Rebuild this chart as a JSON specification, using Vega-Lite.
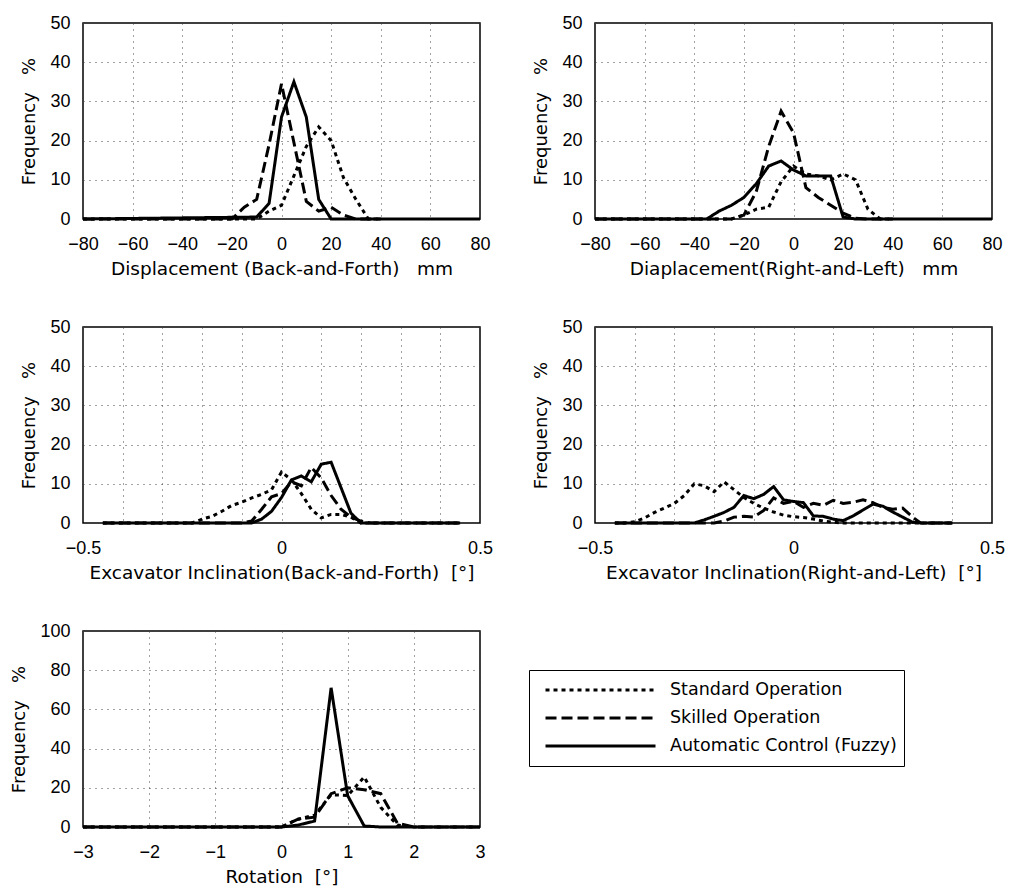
{
  "$schema": "https://vega.github.io/schema/vega-lite/v6.json",
  "background": "white",
  "padding": {"left": 10, "top": 13, "right": 5, "bottom": 5},
  "bounds": "flush",
  "columns": 2,
  "spacing": {"row": 108, "column": 115},
  "datasets": {
    "p1": [
      {"s": "Standard Operation", "x": -80, "y": 0}, {"s": "Standard Operation", "x": -10, "y": 0}, {"s": "Standard Operation", "x": -5, "y": 2}, {"s": "Standard Operation", "x": 0, "y": 3.5}, {"s": "Standard Operation", "x": 5, "y": 11}, {"s": "Standard Operation", "x": 10, "y": 18.5}, {"s": "Standard Operation", "x": 15, "y": 23.5}, {"s": "Standard Operation", "x": 20, "y": 20}, {"s": "Standard Operation", "x": 25, "y": 10.5}, {"s": "Standard Operation", "x": 30, "y": 5}, {"s": "Standard Operation", "x": 35, "y": 0}, {"s": "Standard Operation", "x": 40, "y": 0},
      {"s": "Skilled Operation", "x": -80, "y": 0}, {"s": "Skilled Operation", "x": -20, "y": 0}, {"s": "Skilled Operation", "x": -15, "y": 3}, {"s": "Skilled Operation", "x": -10, "y": 5}, {"s": "Skilled Operation", "x": -5, "y": 19}, {"s": "Skilled Operation", "x": 0, "y": 34.5}, {"s": "Skilled Operation", "x": 5, "y": 19.5}, {"s": "Skilled Operation", "x": 10, "y": 4.5}, {"s": "Skilled Operation", "x": 15, "y": 2}, {"s": "Skilled Operation", "x": 20, "y": 3}, {"s": "Skilled Operation", "x": 25, "y": 1}, {"s": "Skilled Operation", "x": 30, "y": 0}, {"s": "Skilled Operation", "x": 40, "y": 0},
      {"s": "Automatic Control (Fuzzy)", "x": -80, "y": 0}, {"s": "Automatic Control (Fuzzy)", "x": -10, "y": 0.5}, {"s": "Automatic Control (Fuzzy)", "x": -5, "y": 4}, {"s": "Automatic Control (Fuzzy)", "x": 0, "y": 26}, {"s": "Automatic Control (Fuzzy)", "x": 5, "y": 35}, {"s": "Automatic Control (Fuzzy)", "x": 10, "y": 26}, {"s": "Automatic Control (Fuzzy)", "x": 15, "y": 5}, {"s": "Automatic Control (Fuzzy)", "x": 20, "y": 0}, {"s": "Automatic Control (Fuzzy)", "x": 80, "y": 0}
    ],
    "p2": [
      {"s": "Standard Operation", "x": -80, "y": 0}, {"s": "Standard Operation", "x": -25, "y": 0}, {"s": "Standard Operation", "x": -20, "y": 1}, {"s": "Standard Operation", "x": -15, "y": 2.5}, {"s": "Standard Operation", "x": -10, "y": 3}, {"s": "Standard Operation", "x": -5, "y": 9.5}, {"s": "Standard Operation", "x": 0, "y": 13.5}, {"s": "Standard Operation", "x": 5, "y": 11.5}, {"s": "Standard Operation", "x": 10, "y": 11}, {"s": "Standard Operation", "x": 15, "y": 10}, {"s": "Standard Operation", "x": 20, "y": 11.5}, {"s": "Standard Operation", "x": 25, "y": 10}, {"s": "Standard Operation", "x": 30, "y": 2.5}, {"s": "Standard Operation", "x": 35, "y": 0}, {"s": "Standard Operation", "x": 40, "y": 0},
      {"s": "Skilled Operation", "x": -80, "y": 0}, {"s": "Skilled Operation", "x": -25, "y": 0}, {"s": "Skilled Operation", "x": -20, "y": 1}, {"s": "Skilled Operation", "x": -15, "y": 7}, {"s": "Skilled Operation", "x": -10, "y": 18.5}, {"s": "Skilled Operation", "x": -5, "y": 27.5}, {"s": "Skilled Operation", "x": 0, "y": 22}, {"s": "Skilled Operation", "x": 5, "y": 8}, {"s": "Skilled Operation", "x": 10, "y": 5.5}, {"s": "Skilled Operation", "x": 15, "y": 3.5}, {"s": "Skilled Operation", "x": 20, "y": 1.5}, {"s": "Skilled Operation", "x": 25, "y": 0.2}, {"s": "Skilled Operation", "x": 30, "y": 0}, {"s": "Skilled Operation", "x": 40, "y": 0},
      {"s": "Automatic Control (Fuzzy)", "x": -80, "y": 0}, {"s": "Automatic Control (Fuzzy)", "x": -35, "y": 0}, {"s": "Automatic Control (Fuzzy)", "x": -30, "y": 2}, {"s": "Automatic Control (Fuzzy)", "x": -25, "y": 3.5}, {"s": "Automatic Control (Fuzzy)", "x": -20, "y": 5.5}, {"s": "Automatic Control (Fuzzy)", "x": -15, "y": 9}, {"s": "Automatic Control (Fuzzy)", "x": -10, "y": 13.5}, {"s": "Automatic Control (Fuzzy)", "x": -5, "y": 14.8}, {"s": "Automatic Control (Fuzzy)", "x": 0, "y": 12.5}, {"s": "Automatic Control (Fuzzy)", "x": 5, "y": 11}, {"s": "Automatic Control (Fuzzy)", "x": 10, "y": 11}, {"s": "Automatic Control (Fuzzy)", "x": 15, "y": 11}, {"s": "Automatic Control (Fuzzy)", "x": 20, "y": 0.5}, {"s": "Automatic Control (Fuzzy)", "x": 25, "y": 0}, {"s": "Automatic Control (Fuzzy)", "x": 80, "y": 0}
    ],
    "p3": [
      {"s": "Standard Operation", "x": -0.45, "y": 0}, {"s": "Standard Operation", "x": -0.225, "y": 0}, {"s": "Standard Operation", "x": -0.2, "y": 1}, {"s": "Standard Operation", "x": -0.175, "y": 1.7}, {"s": "Standard Operation", "x": -0.15, "y": 3}, {"s": "Standard Operation", "x": -0.125, "y": 4.5}, {"s": "Standard Operation", "x": -0.1, "y": 5.3}, {"s": "Standard Operation", "x": -0.075, "y": 6.4}, {"s": "Standard Operation", "x": -0.05, "y": 7.3}, {"s": "Standard Operation", "x": -0.025, "y": 8.5}, {"s": "Standard Operation", "x": 0, "y": 13}, {"s": "Standard Operation", "x": 0.025, "y": 11}, {"s": "Standard Operation", "x": 0.05, "y": 7.5}, {"s": "Standard Operation", "x": 0.075, "y": 3.5}, {"s": "Standard Operation", "x": 0.1, "y": 1.3}, {"s": "Standard Operation", "x": 0.125, "y": 2.2}, {"s": "Standard Operation", "x": 0.15, "y": 2.2}, {"s": "Standard Operation", "x": 0.175, "y": 1.5}, {"s": "Standard Operation", "x": 0.2, "y": 0}, {"s": "Standard Operation", "x": 0.45, "y": 0},
      {"s": "Skilled Operation", "x": -0.45, "y": 0}, {"s": "Skilled Operation", "x": -0.1, "y": 0}, {"s": "Skilled Operation", "x": -0.075, "y": 0.5}, {"s": "Skilled Operation", "x": -0.05, "y": 3.5}, {"s": "Skilled Operation", "x": -0.025, "y": 6.7}, {"s": "Skilled Operation", "x": 0, "y": 7.5}, {"s": "Skilled Operation", "x": 0.025, "y": 10.5}, {"s": "Skilled Operation", "x": 0.05, "y": 9.5}, {"s": "Skilled Operation", "x": 0.075, "y": 14.2}, {"s": "Skilled Operation", "x": 0.1, "y": 11.5}, {"s": "Skilled Operation", "x": 0.125, "y": 7}, {"s": "Skilled Operation", "x": 0.15, "y": 3.5}, {"s": "Skilled Operation", "x": 0.175, "y": 1.5}, {"s": "Skilled Operation", "x": 0.2, "y": 0.5}, {"s": "Skilled Operation", "x": 0.225, "y": 0}, {"s": "Skilled Operation", "x": 0.45, "y": 0},
      {"s": "Automatic Control (Fuzzy)", "x": -0.45, "y": 0}, {"s": "Automatic Control (Fuzzy)", "x": -0.075, "y": 0}, {"s": "Automatic Control (Fuzzy)", "x": -0.05, "y": 1}, {"s": "Automatic Control (Fuzzy)", "x": -0.025, "y": 3}, {"s": "Automatic Control (Fuzzy)", "x": 0, "y": 6.5}, {"s": "Automatic Control (Fuzzy)", "x": 0.025, "y": 11}, {"s": "Automatic Control (Fuzzy)", "x": 0.05, "y": 12}, {"s": "Automatic Control (Fuzzy)", "x": 0.075, "y": 10.5}, {"s": "Automatic Control (Fuzzy)", "x": 0.1, "y": 15}, {"s": "Automatic Control (Fuzzy)", "x": 0.125, "y": 15.5}, {"s": "Automatic Control (Fuzzy)", "x": 0.15, "y": 9}, {"s": "Automatic Control (Fuzzy)", "x": 0.175, "y": 2.5}, {"s": "Automatic Control (Fuzzy)", "x": 0.2, "y": 0}, {"s": "Automatic Control (Fuzzy)", "x": 0.45, "y": 0}
    ],
    "p4": [
      {"s": "Standard Operation", "x": -0.45, "y": 0}, {"s": "Standard Operation", "x": -0.425, "y": 0}, {"s": "Standard Operation", "x": -0.4, "y": 0.3}, {"s": "Standard Operation", "x": -0.375, "y": 1.3}, {"s": "Standard Operation", "x": -0.35, "y": 2.7}, {"s": "Standard Operation", "x": -0.325, "y": 3.8}, {"s": "Standard Operation", "x": -0.3, "y": 5}, {"s": "Standard Operation", "x": -0.275, "y": 7}, {"s": "Standard Operation", "x": -0.25, "y": 10}, {"s": "Standard Operation", "x": -0.225, "y": 9.5}, {"s": "Standard Operation", "x": -0.2, "y": 8}, {"s": "Standard Operation", "x": -0.175, "y": 10.5}, {"s": "Standard Operation", "x": -0.15, "y": 8.5}, {"s": "Standard Operation", "x": -0.125, "y": 6.5}, {"s": "Standard Operation", "x": -0.1, "y": 5}, {"s": "Standard Operation", "x": -0.075, "y": 3.8}, {"s": "Standard Operation", "x": -0.05, "y": 2.8}, {"s": "Standard Operation", "x": -0.025, "y": 2}, {"s": "Standard Operation", "x": 0, "y": 1.6}, {"s": "Standard Operation", "x": 0.025, "y": 1.4}, {"s": "Standard Operation", "x": 0.05, "y": 1}, {"s": "Standard Operation", "x": 0.075, "y": 0.5}, {"s": "Standard Operation", "x": 0.1, "y": 0.2}, {"s": "Standard Operation", "x": 0.125, "y": 0}, {"s": "Standard Operation", "x": 0.4, "y": 0},
      {"s": "Skilled Operation", "x": -0.45, "y": 0}, {"s": "Skilled Operation", "x": -0.2, "y": 0}, {"s": "Skilled Operation", "x": -0.175, "y": 0.5}, {"s": "Skilled Operation", "x": -0.15, "y": 1.5}, {"s": "Skilled Operation", "x": -0.125, "y": 1.7}, {"s": "Skilled Operation", "x": -0.1, "y": 1.5}, {"s": "Skilled Operation", "x": -0.075, "y": 3.2}, {"s": "Skilled Operation", "x": -0.05, "y": 6.4}, {"s": "Skilled Operation", "x": -0.025, "y": 5}, {"s": "Skilled Operation", "x": 0, "y": 5.5}, {"s": "Skilled Operation", "x": 0.025, "y": 4}, {"s": "Skilled Operation", "x": 0.05, "y": 5}, {"s": "Skilled Operation", "x": 0.075, "y": 4.5}, {"s": "Skilled Operation", "x": 0.1, "y": 5.8}, {"s": "Skilled Operation", "x": 0.125, "y": 5}, {"s": "Skilled Operation", "x": 0.15, "y": 5.3}, {"s": "Skilled Operation", "x": 0.175, "y": 5.9}, {"s": "Skilled Operation", "x": 0.2, "y": 5.2}, {"s": "Skilled Operation", "x": 0.225, "y": 4}, {"s": "Skilled Operation", "x": 0.25, "y": 3.5}, {"s": "Skilled Operation", "x": 0.275, "y": 3.8}, {"s": "Skilled Operation", "x": 0.3, "y": 1.5}, {"s": "Skilled Operation", "x": 0.32, "y": 0}, {"s": "Skilled Operation", "x": 0.4, "y": 0},
      {"s": "Automatic Control (Fuzzy)", "x": -0.45, "y": 0}, {"s": "Automatic Control (Fuzzy)", "x": -0.25, "y": 0}, {"s": "Automatic Control (Fuzzy)", "x": -0.225, "y": 0.8}, {"s": "Automatic Control (Fuzzy)", "x": -0.2, "y": 1.7}, {"s": "Automatic Control (Fuzzy)", "x": -0.175, "y": 2.7}, {"s": "Automatic Control (Fuzzy)", "x": -0.15, "y": 4}, {"s": "Automatic Control (Fuzzy)", "x": -0.125, "y": 7}, {"s": "Automatic Control (Fuzzy)", "x": -0.1, "y": 6.2}, {"s": "Automatic Control (Fuzzy)", "x": -0.075, "y": 7.3}, {"s": "Automatic Control (Fuzzy)", "x": -0.05, "y": 9.3}, {"s": "Automatic Control (Fuzzy)", "x": -0.025, "y": 5.9}, {"s": "Automatic Control (Fuzzy)", "x": 0, "y": 5.5}, {"s": "Automatic Control (Fuzzy)", "x": 0.025, "y": 5.2}, {"s": "Automatic Control (Fuzzy)", "x": 0.05, "y": 1.8}, {"s": "Automatic Control (Fuzzy)", "x": 0.075, "y": 1.7}, {"s": "Automatic Control (Fuzzy)", "x": 0.1, "y": 1}, {"s": "Automatic Control (Fuzzy)", "x": 0.125, "y": 0.6}, {"s": "Automatic Control (Fuzzy)", "x": 0.15, "y": 1.8}, {"s": "Automatic Control (Fuzzy)", "x": 0.175, "y": 3.3}, {"s": "Automatic Control (Fuzzy)", "x": 0.2, "y": 4.8}, {"s": "Automatic Control (Fuzzy)", "x": 0.225, "y": 4.3}, {"s": "Automatic Control (Fuzzy)", "x": 0.25, "y": 2.8}, {"s": "Automatic Control (Fuzzy)", "x": 0.275, "y": 1.5}, {"s": "Automatic Control (Fuzzy)", "x": 0.3, "y": 0.2}, {"s": "Automatic Control (Fuzzy)", "x": 0.325, "y": 0}, {"s": "Automatic Control (Fuzzy)", "x": 0.4, "y": 0}
    ],
    "p5": [
      {"s": "Standard Operation", "x": -3, "y": 0}, {"s": "Standard Operation", "x": 0, "y": 0}, {"s": "Standard Operation", "x": 0.25, "y": 4}, {"s": "Standard Operation", "x": 0.5, "y": 6}, {"s": "Standard Operation", "x": 0.75, "y": 16.5}, {"s": "Standard Operation", "x": 1, "y": 16}, {"s": "Standard Operation", "x": 1.25, "y": 25.5}, {"s": "Standard Operation", "x": 1.5, "y": 10}, {"s": "Standard Operation", "x": 1.75, "y": 1}, {"s": "Standard Operation", "x": 2, "y": 0}, {"s": "Standard Operation", "x": 3, "y": 0},
      {"s": "Skilled Operation", "x": -3, "y": 0}, {"s": "Skilled Operation", "x": 0, "y": 0}, {"s": "Skilled Operation", "x": 0.25, "y": 4}, {"s": "Skilled Operation", "x": 0.5, "y": 5}, {"s": "Skilled Operation", "x": 0.75, "y": 17}, {"s": "Skilled Operation", "x": 1, "y": 20}, {"s": "Skilled Operation", "x": 1.25, "y": 19}, {"s": "Skilled Operation", "x": 1.5, "y": 17}, {"s": "Skilled Operation", "x": 1.75, "y": 2}, {"s": "Skilled Operation", "x": 2, "y": 0}, {"s": "Skilled Operation", "x": 3, "y": 0},
      {"s": "Automatic Control (Fuzzy)", "x": -3, "y": 0}, {"s": "Automatic Control (Fuzzy)", "x": 0, "y": 0}, {"s": "Automatic Control (Fuzzy)", "x": 0.25, "y": 1}, {"s": "Automatic Control (Fuzzy)", "x": 0.5, "y": 3}, {"s": "Automatic Control (Fuzzy)", "x": 0.75, "y": 71}, {"s": "Automatic Control (Fuzzy)", "x": 1, "y": 16}, {"s": "Automatic Control (Fuzzy)", "x": 1.25, "y": 0.5}, {"s": "Automatic Control (Fuzzy)", "x": 1.5, "y": 0}, {"s": "Automatic Control (Fuzzy)", "x": 3, "y": 0}
    ]
  },
  "concat": [
    {
      "width": 397, "height": 196,
      "data": {"name": "p1"},
      "mark": {"type": "line", "color": "black", "strokeCap": "butt"},
      "encoding": {
        "x": {"field": "x", "type": "quantitative", "scale": {"domain": [-80, 80], "nice": false, "zero": false}, "axis": {"values": [-80, -60, -40, -20, 0, 20, 40, 60, 80], "title": "Displacement (Back-and-Forth)\u00a0\u00a0\u00a0mm"}},
        "y": {"field": "y", "type": "quantitative", "scale": {"domain": [0, 50], "nice": false}, "axis": {"values": [0, 10, 20, 30, 40, 50], "title": "Frequency\u00a0\u00a0\u00a0%"}},
        "strokeDash": {"field": "s", "type": "nominal", "scale": {"domain": ["Standard Operation", "Skilled Operation", "Automatic Control (Fuzzy)"], "range": [[4, 4], [11, 5], [1, 0]]}, "legend": {"title": null, "orient": "none", "legendX": 446, "legendY": 647}},
        "strokeWidth": {"field": "s", "type": "nominal", "scale": {"domain": ["Standard Operation", "Skilled Operation", "Automatic Control (Fuzzy)"], "range": [3, 3, 1.7]}, "legend": {"title": null, "orient": "none", "legendX": 446, "legendY": 647}}
      }
    },
    {
      "width": 397, "height": 196,
      "data": {"name": "p2"},
      "mark": {"type": "line", "color": "black", "strokeCap": "butt"},
      "encoding": {
        "x": {"field": "x", "type": "quantitative", "scale": {"domain": [-80, 80], "nice": false, "zero": false}, "axis": {"values": [-80, -60, -40, -20, 0, 20, 40, 60, 80], "title": "Diaplacement(Right-and-Left)\u00a0\u00a0\u00a0mm"}},
        "y": {"field": "y", "type": "quantitative", "scale": {"domain": [0, 50], "nice": false}, "axis": {"values": [0, 10, 20, 30, 40, 50], "title": "Frequency\u00a0\u00a0\u00a0%"}},
        "strokeDash": {"field": "s", "type": "nominal"},
        "strokeWidth": {"field": "s", "type": "nominal"}
      }
    },
    {
      "width": 397, "height": 196,
      "data": {"name": "p3"},
      "mark": {"type": "line", "color": "black", "strokeCap": "butt"},
      "encoding": {
        "x": {"field": "x", "type": "quantitative", "scale": {"domain": [-0.5, 0.5], "nice": false, "zero": false}, "axis": {"values": [-0.5, -0.4, -0.3, -0.2, -0.1, 0, 0.1, 0.2, 0.3, 0.4, 0.5], "labelExpr": "datum.value == -0.5 ? '\u22120.5' : datum.value == 0 ? '0' : datum.value == 0.5 ? '0.5' : ''", "title": "Excavator Inclination(Back-and-Forth)\u00a0\u00a0[\u00b0]"}},
        "y": {"field": "y", "type": "quantitative", "scale": {"domain": [0, 50], "nice": false}, "axis": {"values": [0, 10, 20, 30, 40, 50], "title": "Frequency\u00a0\u00a0\u00a0%"}},
        "strokeDash": {"field": "s", "type": "nominal"},
        "strokeWidth": {"field": "s", "type": "nominal"}
      }
    },
    {
      "width": 397, "height": 196,
      "data": {"name": "p4"},
      "mark": {"type": "line", "color": "black", "strokeCap": "butt"},
      "encoding": {
        "x": {"field": "x", "type": "quantitative", "scale": {"domain": [-0.5, 0.5], "nice": false, "zero": false}, "axis": {"values": [-0.5, -0.4, -0.3, -0.2, -0.1, 0, 0.1, 0.2, 0.3, 0.4, 0.5], "labelExpr": "datum.value == -0.5 ? '\u22120.5' : datum.value == 0 ? '0' : datum.value == 0.5 ? '0.5' : ''", "title": "Excavator Inclination(Right-and-Left)\u00a0\u00a0[\u00b0]"}},
        "y": {"field": "y", "type": "quantitative", "scale": {"domain": [0, 50], "nice": false}, "axis": {"values": [0, 10, 20, 30, 40, 50], "title": "Frequency\u00a0\u00a0\u00a0%"}},
        "strokeDash": {"field": "s", "type": "nominal"},
        "strokeWidth": {"field": "s", "type": "nominal"}
      }
    },
    {
      "width": 397, "height": 196,
      "data": {"name": "p5"},
      "mark": {"type": "line", "color": "black", "strokeCap": "butt"},
      "encoding": {
        "x": {"field": "x", "type": "quantitative", "scale": {"domain": [-3, 3], "nice": false, "zero": false}, "axis": {"values": [-3, -2, -1, 0, 1, 2, 3], "title": "Rotation\u00a0\u00a0[\u00b0]"}},
        "y": {"field": "y", "type": "quantitative", "scale": {"domain": [0, 100], "nice": false}, "axis": {"values": [0, 20, 40, 60, 80, 100], "title": "Frequency\u00a0\u00a0\u00a0%"}},
        "strokeDash": {"field": "s", "type": "nominal"},
        "strokeWidth": {"field": "s", "type": "nominal"}
      }
    }
  ],
  "resolve": {
    "scale": {"x": "independent", "y": "independent", "strokeDash": "shared", "strokeWidth": "shared"},
    "axis": {"x": "independent", "y": "independent"},
    "legend": {"strokeDash": "shared", "strokeWidth": "shared"}
  },
  "config": {
    "view": {"stroke": "black", "strokeWidth": 1.5},
    "font": "DejaVu Sans",
    "axis": {
      "grid": true, "gridColor": "#444", "gridDash": [1, 5], "gridWidth": 1,
      "ticks": false, "domain": false,
      "labelFont": "Liberation Sans", "labelFontSize": 18, "labelColor": "black",
      "titleFont": "DejaVu Sans", "titleFontSize": 18, "titleFontWeight": "normal", "titleColor": "black",
      "labelOverlap": false
    },
    "axisX": {"labelPadding": 16, "titlePadding": 6, "labelFlush": false, "titleFontSize": 18.5},
    "axisY": {"labelPadding": 13, "titlePadding": 11},
    "legend": {
      "symbolType": "stroke", "symbolSize": 12100, "symbolStrokeColor": "black", "clipHeight": 26, "symbolOffset": 8,
      "labelFont": "DejaVu Sans", "labelFontSize": 17.5, "labelColor": "black", "labelOffset": 13, "labelLimit": 400,
      "strokeColor": "black", "padding": 7, "rowPadding": 2, "cornerRadius": 0, "fillColor": "white"
    }
  }
}
